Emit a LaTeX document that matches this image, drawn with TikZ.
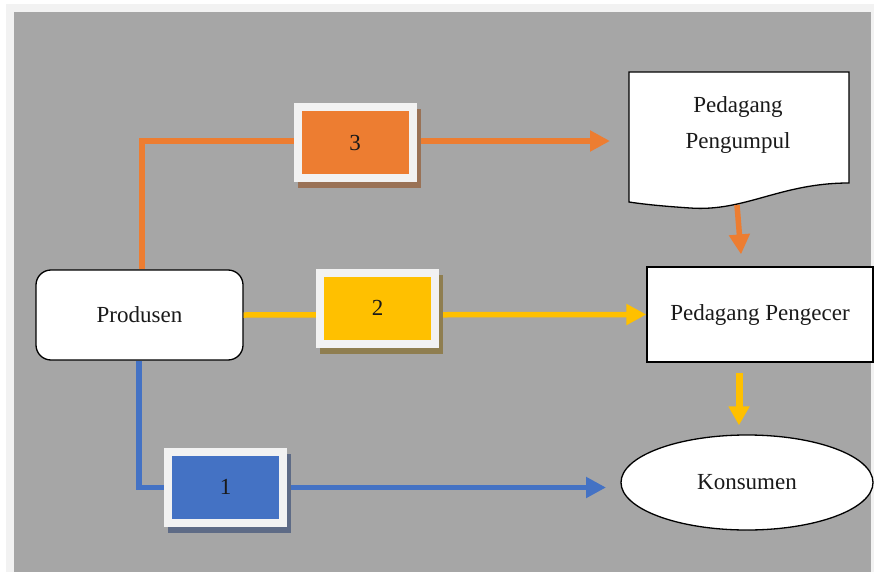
\documentclass[tikz,border=0pt]{standalone}
\usepackage{fontspec}
\setmainfont{Liberation Serif}
\usetikzlibrary{arrows.meta,shapes.geometric}
\definecolor{outerbg}{HTML}{F2F2F2}
\definecolor{graybg}{HTML}{A6A6A6}
\definecolor{framecol}{HTML}{F2F2F2}
\definecolor{orangec}{HTML}{ED7D31}
\definecolor{yellowc}{HTML}{FFC000}
\definecolor{bluec}{HTML}{4472C4}
\definecolor{orshadow}{HTML}{9A7256}
\definecolor{yeshadow}{HTML}{8F7E50}
\definecolor{blshadow}{HTML}{5E6B86}
\definecolor{txt}{HTML}{1A1A1A}
\tikzset{
  lbl/.style={font=\fontsize{23}{27}\selectfont, text=txt},
  mainbox/.style={lbl, draw=black, line width=1.3pt, fill=white, inner sep=0pt},
  flow/.style={line width=5.5pt, -{Triangle[length=20pt,width=20pt]}},
  tagbox/.style 2 args={lbl, fill=framecol, minimum width=123pt, minimum height=79pt, inner sep=0pt,
    preaction={fill=#2, transform canvas={xshift=4pt,yshift=-6pt}},
    path picture={\fill[#1] ([shift={(8pt,-8pt)}]path picture bounding box.north west) rectangle ([shift={(-8pt,8pt)}]path picture bounding box.south east);}}
}
\begin{document}
\begin{tikzpicture}[x=1pt,y=-1pt]
\useasboundingbox (0,0) rectangle (874,572);
\fill[white] (0,0) rectangle (874,572);
\fill[outerbg] (6,4) rectangle (874,572);
\fill[graybg] (14,12) rectangle (871,572);

% main nodes
\node[mainbox, rounded corners=15pt, minimum width=207pt, minimum height=90pt] (prod) at (139.5,315) {Produsen};
\node[mainbox, minimum width=226pt, minimum height=95pt] (pengecer) at (760,314.5) {Pedagang Pengecer};
\node[mainbox, ellipse, minimum width=252pt, minimum height=95pt] (konsumen) at (747,482.5) {Konsumen};
\filldraw[fill=white, draw=black, line width=1.3pt]
  (629,72) -- (849,72) -- (849,183)
  .. controls (780,183) and (745,212) .. (690,208)
  .. controls (660,206) and (642,204) .. (629,202) -- cycle;
\node[lbl, align=center, font=\fontsize{23}{36}\selectfont] (pengumpul) at (738,125) {Pedagang\\Pengumpul};
\coordinate (pgbot) at (737,205);

% free ends
\coordinate (c3) at (610,141);
\coordinate (c1) at (606,487.5);

% connectors
\draw[flow, orangec] ([xshift=2.5pt]prod.north) |- (c3);
\draw[flow, yellowc] (prod.east) -- (pengecer.west);
\draw[flow, bluec] ([xshift=-0.5pt]prod.south) |- (c1);
\draw[flow, orangec, shorten >=12pt] (pgbot) -- ([xshift=-18pt]pengecer.north);
\draw[flow, yellowc, line width=7pt, -{Triangle[length=19pt,width=20pt]}]
  ([xshift=-21pt,yshift=-10pt]pengecer.south) -- ([xshift=-8pt,yshift=9pt]konsumen.north);

% tag boxes
\node[tagbox={orangec}{orshadow}] (t3) at (355,142.5) {3};
\node[tagbox={yellowc}{yeshadow}] (t2) at (377.5,308) {2};
\node[tagbox={bluec}{blshadow}] (t1) at (225.5,487) {1};
\end{tikzpicture}
\end{document}
